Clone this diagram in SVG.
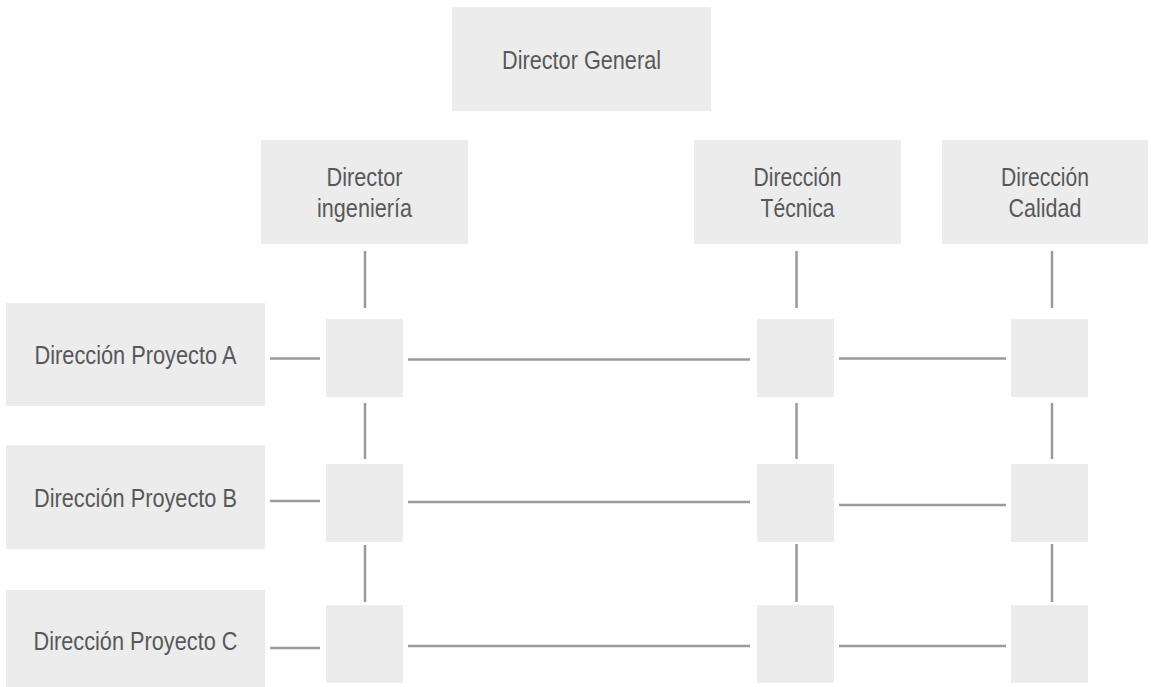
<svg xmlns="http://www.w3.org/2000/svg" width="1151" height="687" viewBox="0 0 1151 687">
<style>
.box{fill:#ececed}
.t{font-family:"Liberation Sans",Arial,sans-serif;font-size:26px;fill:#58585a;text-anchor:middle}
.ln{stroke:#9a9a9c;stroke-width:2.5;fill:none}
</style>
<rect width="1151" height="687" fill="#ffffff"/>
<g id="director-general">
<rect class="box" x="452" y="7" width="259" height="104"/>
<text class="t" x="581.5" y="69" textLength="159" lengthAdjust="spacingAndGlyphs">Director General</text>
</g>
<g id="director-ingenieria">
<rect class="box" x="261" y="140" width="207" height="104"/>
<text class="t" x="364.5" y="186" textLength="76" lengthAdjust="spacingAndGlyphs">Director</text>
<text class="t" x="364.5" y="217" textLength="95" lengthAdjust="spacingAndGlyphs">ingeniería</text>
</g>
<g id="direccion-tecnica">
<rect class="box" x="694" y="140" width="207" height="104"/>
<text class="t" x="797.5" y="186" textLength="88" lengthAdjust="spacingAndGlyphs">Dirección</text>
<text class="t" x="797.5" y="217" textLength="74" lengthAdjust="spacingAndGlyphs">Técnica</text>
</g>
<g id="direccion-calidad">
<rect class="box" x="942" y="140" width="206" height="104"/>
<text class="t" x="1045" y="186" textLength="88" lengthAdjust="spacingAndGlyphs">Dirección</text>
<text class="t" x="1045" y="217" textLength="73" lengthAdjust="spacingAndGlyphs">Calidad</text>
</g>
<g id="proyecto-a">
<rect class="box" x="6" y="303" width="259" height="103"/>
<text class="t" x="135.5" y="364" textLength="202" lengthAdjust="spacingAndGlyphs">Dirección Proyecto A</text>
</g>
<g id="proyecto-b">
<rect class="box" x="6" y="445" width="259" height="104"/>
<text class="t" x="135.5" y="507" textLength="203" lengthAdjust="spacingAndGlyphs">Dirección Proyecto B</text>
</g>
<g id="proyecto-c">
<rect class="box" x="6" y="590" width="259" height="104"/>
<text class="t" x="135.5" y="650" textLength="204" lengthAdjust="spacingAndGlyphs">Dirección Proyecto C</text>
</g>
<g id="cell-a1"><rect class="box" x="326" y="319" width="77" height="78"/></g>
<g id="cell-a2"><rect class="box" x="757" y="319" width="77" height="78"/></g>
<g id="cell-a3"><rect class="box" x="1011" y="319" width="77" height="78"/></g>
<g id="cell-b1"><rect class="box" x="326" y="464" width="77" height="78"/></g>
<g id="cell-b2"><rect class="box" x="757" y="464" width="77" height="78"/></g>
<g id="cell-b3"><rect class="box" x="1011" y="464" width="77" height="78"/></g>
<g id="cell-c1"><rect class="box" x="326" y="605" width="77" height="78"/></g>
<g id="cell-c2"><rect class="box" x="757" y="605" width="77" height="78"/></g>
<g id="cell-c3"><rect class="box" x="1011" y="605" width="77" height="78"/></g>
<g id="connectors" class="ln">
<line x1="365" y1="251" x2="365" y2="308"/>
<line x1="365" y1="403" x2="365" y2="459"/>
<line x1="365" y1="545" x2="365" y2="602"/>
<line x1="796.5" y1="251" x2="796.5" y2="308"/>
<line x1="796.5" y1="403" x2="796.5" y2="459"/>
<line x1="796.5" y1="544" x2="796.5" y2="602"/>
<line x1="1052" y1="251" x2="1052" y2="308"/>
<line x1="1052" y1="403" x2="1052" y2="459"/>
<line x1="1052" y1="544" x2="1052" y2="602"/>
<line x1="270" y1="358.5" x2="320" y2="358.5"/>
<line x1="270" y1="501" x2="320" y2="501"/>
<line x1="270" y1="648" x2="320" y2="648"/>
<line x1="408" y1="359.5" x2="750" y2="359.5"/>
<line x1="408" y1="502" x2="750" y2="502"/>
<line x1="408" y1="646" x2="750" y2="646"/>
<line x1="839" y1="358.5" x2="1006" y2="358.5"/>
<line x1="839" y1="505" x2="1006" y2="505"/>
<line x1="839" y1="646" x2="1006" y2="646"/>
</g>
</svg>
